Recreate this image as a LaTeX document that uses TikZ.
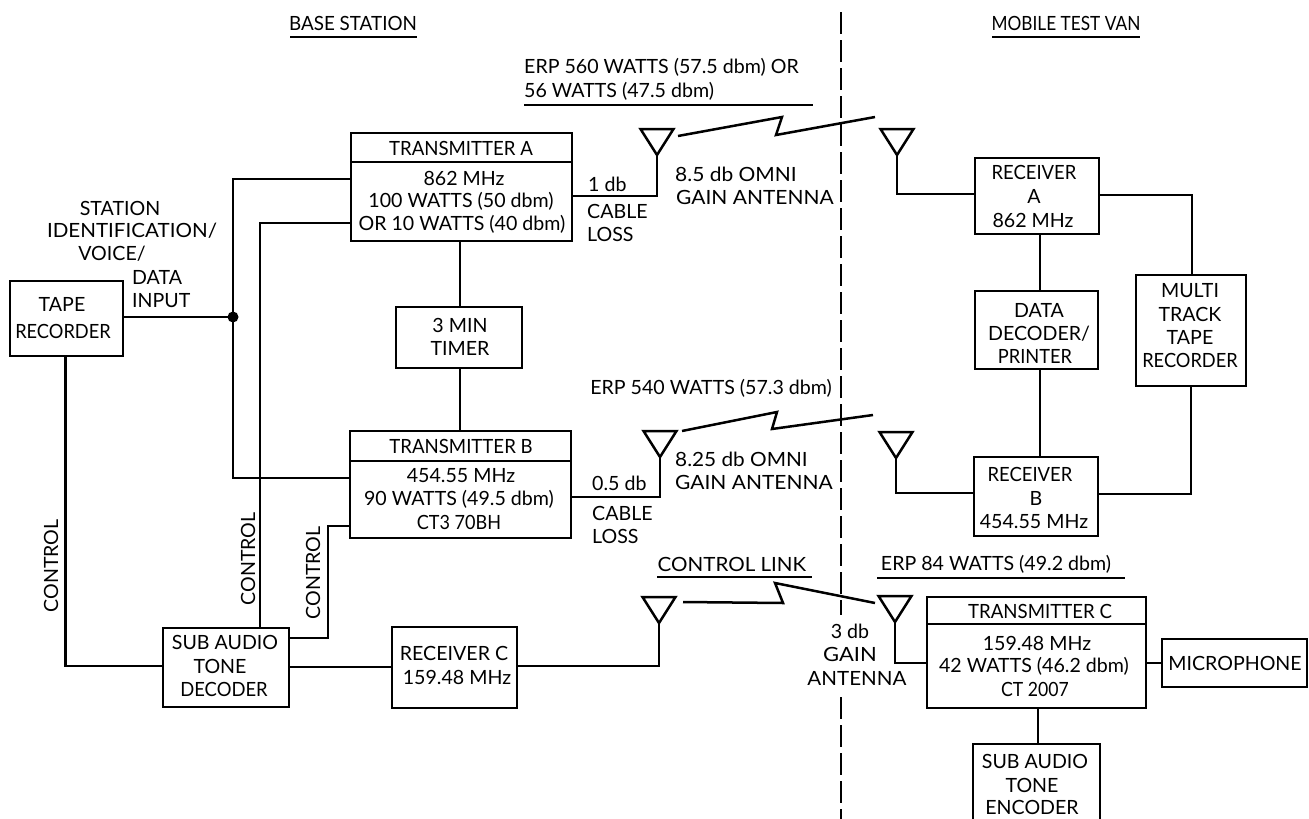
\documentclass[tikz,border=0pt]{standalone}
\usepackage{fontspec}
\setmainfont{Lato}
\tikzset{
  wire/.style={line width=2.5pt,line join=miter,line cap=butt},
  boxb/.style={draw,line width=2.8pt,rectangle,inner sep=0pt},
  txt/.style={inner sep=0pt,font=\fontsize{19.6}{22}\selectfont},
  lft/.style={txt,anchor=west},
  rgt/.style={txt,anchor=east},
  vert/.style={txt,rotate=90},
  divide/.style={dash pattern=on 22pt off 6pt,line width=2.6pt}
}
\newcommand\st[2]{{\addfontfeature{FakeStretch=#1}#2}}
\newcommand\mybox[5]{\node[boxb,minimum width={(#4)-(#2)},minimum height={(#5)-(#3)},anchor=north west,outer sep=0pt] (#1) at (#2,#3) {};}
\newcommand\lbl[4]{\node[txt] (#1) at (#2,#3) {#4};}
\newcommand\lbll[4]{\node[lft] (#1) at (#2,#3) {#4};}
\newcommand\antenna[3]{\coordinate (#1) at (#2,#3);\draw[wire,line join=miter] (#1) -- ++(-16.5,-26) -- ++(33,0) -- cycle;}
\newcommand\uline[4]{\coordinate (#1a) at (#2,#4);\coordinate (#1b) at (#3,#4);\draw[wire] (#1a) -- (#1b);}
\begin{document}
\begin{tikzpicture}[x=1pt,y=-1pt]
\useasboundingbox (0,0) rectangle (1309,819);
% boxes
\mybox{txa}{351}{133}{572}{241}
\mybox{tape}{10}{281}{123}{356}
\mybox{timer}{396}{307}{522}{368}
\mybox{txb}{350}{431}{571}{538}
\mybox{sub}{163}{628}{289}{707}
\mybox{rxc}{392}{627}{517}{708}
\mybox{rxa}{975}{158}{1099}{234}
\mybox{dec}{975}{291}{1098}{369}
\mybox{multi}{1136}{275}{1246}{386}
\mybox{rxb}{974}{457}{1098}{536}
\mybox{txc}{927}{597}{1146}{708}
\mybox{mic}{1162}{639}{1307}{687}
\mybox{enc}{973}{744}{1100}{825}
\coordinate (txaL) at (351,162);\coordinate (txaR) at (572,162);\draw[wire] (txaL) -- (txaR);
\coordinate (txbL) at (350,461);\coordinate (txbR) at (571,461);\draw[wire] (txbL) -- (txbR);
\coordinate (txcL) at (927,624);\coordinate (txcR) at (1146,624);\draw[wire] (txcL) -- (txcR);
% antennas
\antenna{a1}{657}{155}
\antenna{a2}{897}{155}
\antenna{b1}{660}{457}
\antenna{b2}{896}{458}
\antenna{c1}{659}{623}
\antenna{c2}{895}{622}
% divider
\coordinate (d1) at (841,12);\coordinate (d2) at (841,615);\coordinate (d3) at (841,697);\coordinate (d4) at (841,819);
\draw[divide] (d1) -- (d2);
\draw[divide] (d3) -- (d4);
% connectors
\coordinate (busj) at (233,317);
\draw[wire] (txa.west |- 0,179) -| (busj);
\draw[wire] (busj) |- (txb.west |- 0,478);
\draw[wire] (tape.east |- busj) -- (busj);
\fill (busj) circle (5.5pt);
\draw[wire] (txa.west |- 0,223) -| (sub.north -| 260,0);
\draw[wire] (tape.south -| 65.5,0) |- (sub.west |- 0,666);
\draw[wire] (sub.east |- 0,638) -| (328,526) -- (txb.west |- 0,526);
\draw[wire] (sub.east |- 0,667) -- (rxc.west |- 0,667);
\draw[wire] (rxc.east |- 0,666) -| (c1);
\draw[wire] (txa.south -| 460,0) -- (timer.north -| 460,0);
\draw[wire] (timer.south -| 460,0) -- (txb.north -| 460,0);
\draw[wire] (txa.east |- 0,196) -| (a1);
\draw[wire] (txb.east |- 0,497) -| (b1);
\draw[wire] (a2) |- (rxa.west |- 0,194);
\draw[wire] (b2) |- (rxb.west |- 0,493);
\draw[wire] (c2) |- (txc.west |- 0,663);
\draw[wire] (rxa.south -| 1040,0) -- (dec.north -| 1040,0);
\draw[wire] (dec.south -| 1040,0) -- (rxb.north -| 1040,0);
\draw[wire] (rxa.east |- 0,195) -| (multi.north -| 1192,0);
\draw[wire] (rxb.east |- 0,494) -| (multi.south -| 1191,0);
\draw[wire] (txc.east |- 0,663) -- (mic.west |- 0,663);
\draw[wire] (txc.south -| 1038,0) -- (enc.north -| 1038,0);
% radio links
\coordinate (z1s) at (678,136);\coordinate (z1e) at (875,117);
\draw[wire] (z1s) -- (782,117) -- (776,135) -- (z1e);
\coordinate (z2s) at (682,431);\coordinate (z2e) at (873,415);
\draw[wire] (z2s) -- (777,412) -- (772,429) -- (z2e);
\coordinate (z3s) at (683,602);\coordinate (z3e) at (875,603);
\draw[wire] (z3s) -- (783,603) -- (775,583) -- (z3e);
% underlines
\uline{u1}{290}{417}{37}
\uline{u2}{992}{1140}{37}
\uline{u3}{524}{813}{105}
\uline{u4}{657}{812}{577}
\uline{u5}{877}{1125}{578}
% text
\lbl{t1}{353}{23}{\st{.96}{BASE STATION}}
\lbl{t2}{1066}{23}{\st{.88}{MOBILE TEST VAN}}
\lbll{t3}{524}{67}{ERP 560 WATTS (57.5 dbm) OR}
\lbll{t4}{524}{91}{56 WATTS (47.5 dbm)}
\lbl{t5}{461}{148}{\st{.95}{TRANSMITTER A}}
\lbl{t6}{464}{178}{862 MHz}
\lbl{t7}{461}{201}{100 WATTS (50 dbm)}
\lbl{t8}{462}{224}{OR 10 WATTS (40 dbm)}
\lbll{t9}{588}{184}{1 db}
\lbll{t10}{587}{211}{CABLE}
\lbll{t11}{587}{234}{LOSS}
\lbll{t12}{675}{174}{\st{1.07}{8.5 db OMNI}}
\lbll{t13}{676}{197}{\st{1.07}{GAIN ANTENNA}}
\lbl{t14}{120}{208}{STATION}
\lbl{t15}{132}{231}{\st{1.05}{IDENTIFICATION/}}
\lbl{t16}{112}{254}{VOICE/}
\lbll{t17}{132}{277}{DATA}
\lbll{t18}{132}{301}{INPUT}
\lbl{t19}{62}{304}{TAPE}
\lbl{t20}{63}{331}{\st{.93}{RECORDER}}
\lbl{t21}{460}{325}{3 MIN}
\lbl{t22}{460}{348}{TIMER}
\node[rgt] (t23) at (832,388) {ERP 540 WATTS (57.3 dbm)};
\lbll{t24}{675}{459}{\st{1.06}{8.25 db OMNI}}
\lbll{t25}{675}{482}{\st{1.07}{GAIN ANTENNA}}
\lbll{t26}{592}{483}{0.5 db}
\lbll{t27}{592}{513}{CABLE}
\lbll{t28}{592}{536}{LOSS}
\lbl{t29}{461}{446}{\st{.95}{TRANSMITTER B}}
\lbl{t30}{461}{476}{454.55 MHz}
\lbl{t31}{459}{499}{90 WATTS (49.5 dbm)}
\lbl{t32}{459}{522}{\st{.92}{CT3 70BH}}
\node[vert] (t33) at (51,566) {CONTROL};
\node[vert] (t34) at (248,559) {CONTROL};
\node[vert] (t35) at (313,573) {CONTROL};
\lbl{t36}{225}{642}{SUB AUDIO}
\lbl{t37}{220}{666}{TONE}
\lbl{t38}{224}{689}{\st{.94}{DECODER}}
\lbl{t39}{454}{653}{RECEIVER C}
\lbl{t40}{457}{677}{159.48 MHz}
\lbl{t41}{732}{564}{\st{1.05}{CONTROL LINK}}
\lbl{t42}{996}{564}{ERP 84 WATTS (49.2 dbm)}
\lbl{t43}{850}{631}{3 db}
\lbl{t44}{850}{654}{\st{1.12}{GAIN}}
\lbl{t45}{857}{678}{\st{1.05}{ANTENNA}}
\lbl{t46}{1040}{611}{\st{.95}{TRANSMITTER C}}
\lbl{t47}{1037}{643}{159.48 MHz}
\lbl{t48}{1034}{666}{42 WATTS (46.2 dbm)}
\lbl{t49}{1035}{689}{\st{.9}{CT 2007}}
\lbl{t50}{1235}{663}{MICROPHONE}
\lbl{t51}{1035}{761}{SUB AUDIO}
\lbl{t52}{1032}{785}{TONE}
\lbl{t53}{1032}{807}{ENCODER}
\lbl{t54}{1034}{172}{\st{.94}{RECEIVER}}
\lbl{t55}{1034}{196}{A}
\lbl{t56}{1033}{220}{862 MHz}
\lbl{t57}{1039}{310}{DATA}
\lbl{t58}{1039}{334}{DECODER/}
\lbl{t59}{1035}{356}{\st{.93}{PRINTER}}
\lbl{t60}{1190}{291}{MULTI}
\lbl{t61}{1190}{314}{TRACK}
\lbl{t62}{1190}{337}{TAPE}
\lbl{t63}{1190}{360}{\st{.93}{RECORDER}}
\lbl{t64}{1030}{474}{\st{.94}{RECEIVER}}
\lbl{t65}{1036}{498}{B}
\lbl{t66}{1034}{522}{454.55 MHz}
\end{tikzpicture}
\end{document}
